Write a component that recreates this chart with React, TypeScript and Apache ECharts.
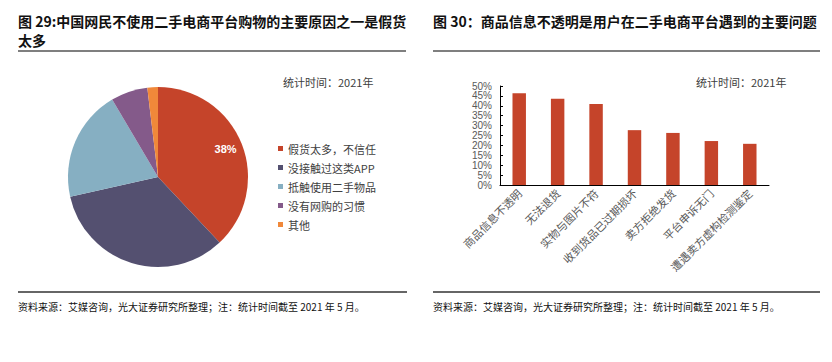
import React, { useEffect, useRef } from "react";
import * as echarts from "echarts";

const pieNames = ["假货太多，不信任", "没接触过这类APP", "抵触使用二手物品", "没有网购的习惯", "其他"];
const pieValues = [38, 33.5, 20, 6.6, 1.9];
const pieColors = ["#C5442A", "#545070", "#86AFC2", "#845A8A", "#F0883A"];

const barCategories = [
  "商品信息不透明",
  "无法退货",
  "实物与图片不符",
  "收到货品已过期损坏",
  "卖方拒绝发货",
  "平台申诉无门",
  "遭遇卖方虚构检测鉴定",
];
const barValues = [46.3, 43.5, 40.9, 27.7, 26.3, 22.2, 20.8];

const title29a = "图 29:中国网民不使用二手电商平台购物的主要原因之一是假货";
const title29b = "太多";
const title30 = "图 30：商品信息不透明是用户在二手电商平台遇到的主要问题";
const statText = "统计时间：2021年";
const sourceText = "资料来源：艾媒咨询，光大证券研究所整理；注：统计时间截至 2021 年 5 月。";

const FONT = '"Noto Sans CJK SC", "Noto Sans", sans-serif';

export default function App() {
  const ref = useRef<HTMLDivElement>(null);
  useEffect(() => {
    document.body.style.margin = "0";
    const chart = echarts.init(ref.current!, null, { renderer: "svg" });
    chart.setOption({
      animation: false,
      backgroundColor: "#ffffff",
      textStyle: { fontFamily: FONT },
      legend: {
        orient: "vertical",
        left: 273,
        top: 138,
        itemWidth: 5,
        itemHeight: 5,
        itemGap: 8,
        icon: "rect",
        data: pieNames,
        textStyle: { fontSize: 11, color: "#404040", fontFamily: FONT, lineHeight: 11 },
      },
      grid: { left: 500, right: 63, top: 86, bottom: 177 },
      xAxis: {
        type: "category",
        data: barCategories,
        axisLine: { lineStyle: { color: "#000", width: 1 } },
        axisTick: { inside: true, length: 3, lineStyle: { color: "#000" } },
        axisLabel: { rotate: 45, fontSize: 11, color: "#595959", margin: 6, interval: 0, fontFamily: FONT },
      },
      yAxis: {
        type: "value",
        min: 0,
        max: 50,
        interval: 5,
        splitLine: { show: false },
        axisLine: { show: true, lineStyle: { color: "#000", width: 1 } },
        axisTick: { show: true, inside: true, length: 3, lineStyle: { color: "#000" } },
        axisLabel: { formatter: "{value}%", fontSize: 10, color: "#595959", margin: 8, fontFamily: "Liberation Sans, Arial, sans-serif" },
      },
      series: [
        {
          type: "pie",
          center: [158, 177],
          radius: [0, 90],
          startAngle: 90,
          clockwise: true,
          label: { show: false },
          labelLine: { show: false },
          percentPrecision: 0,
          data: pieNames.map((n, i) => ({
            name: n,
            value: pieValues[i],
            itemStyle: { color: pieColors[i] },
            label:
              i === 0
                ? {
                    show: true,
                    position: "inside",
                    formatter: "{d}%",
                    color: "#fff",
                    fontSize: 11,
                    fontWeight: "bold",
                    offset: [23, -10],
                    fontFamily: "Liberation Sans, Arial, sans-serif",
                  }
                : { show: false },
          })),
          emphasis: { disabled: true },
        },
        {
          type: "bar",
          data: barValues,
          barWidth: "35%",
          itemStyle: { color: "#C5442A" },
        },
      ],
      graphic: [
        { type: "text", left: 18, top: 14, style: { text: title29a, font: `bold 14px ${FONT}`, fill: "#111" } },
        { type: "text", left: 18, top: 33, style: { text: title29b, font: `bold 14px ${FONT}`, fill: "#111" } },
        { type: "text", left: 433, top: 14, style: { text: title30, font: `bold 14px ${FONT}`, fill: "#111" } },
        { type: "line", shape: { x1: 18, y1: 51, x2: 406, y2: 51 }, style: { stroke: "#000", lineWidth: 1.2 } },
        { type: "line", shape: { x1: 433, y1: 51, x2: 820, y2: 51 }, style: { stroke: "#000", lineWidth: 1.2 } },
        { type: "text", left: 283, top: 76, style: { text: statText, font: `11px ${FONT}`, fill: "#404040" } },
        { type: "text", left: 696, top: 76, style: { text: statText, font: `11px ${FONT}`, fill: "#404040" } },
        { type: "line", shape: { x1: 18, y1: 292, x2: 407, y2: 292 }, style: { stroke: "#333", lineWidth: 1.5 } },
        { type: "line", shape: { x1: 433, y1: 292, x2: 820, y2: 292 }, style: { stroke: "#333", lineWidth: 1.5 } },
        { type: "text", left: 18, top: 301, style: { text: sourceText, font: `10px ${FONT}`, fill: "#111" } },
        { type: "text", left: 433, top: 301, style: { text: sourceText, font: `10px ${FONT}`, fill: "#111" } },
      ],
    });
    return () => chart.dispose();
  }, []);
  return <div ref={ref} style={{ width: 832, height: 362 }} />;
}
